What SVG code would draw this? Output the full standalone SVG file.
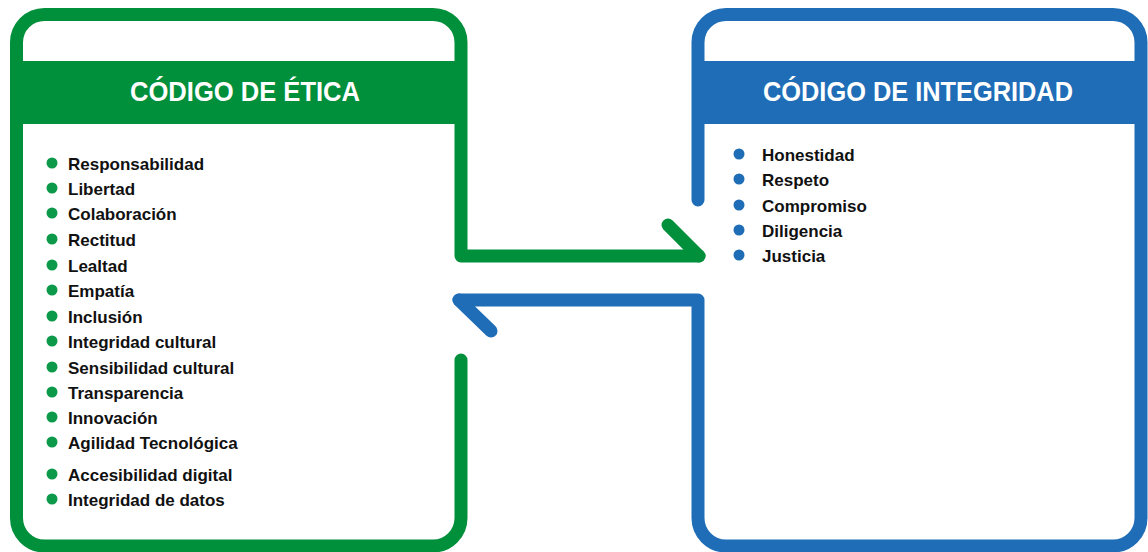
<svg xmlns="http://www.w3.org/2000/svg" width="1148" height="552" viewBox="0 0 1148 552">
<style>
.g{stroke:#008f3b;fill:none;stroke-width:13;stroke-linecap:round;stroke-linejoin:round}
.b{stroke:#1e6db6;fill:none;stroke-width:13;stroke-linecap:round;stroke-linejoin:round}
.hd{font-family:"Liberation Sans",Arial,sans-serif;font-weight:bold;font-size:28px;fill:#fff;text-anchor:middle}
.it{font-family:"Liberation Sans",Arial,sans-serif;font-weight:bold;font-size:17px;fill:#111}
.gd{fill:#0c9a4a}
.bd{fill:#1e6db6}
</style>
<rect width="1148" height="552" fill="#fff"/>
<g id="connectors">
<path class="g" d="M461,360 L461,518 A28,28 0 0 1 433,546 L44.5,546 A28,28 0 0 1 16.5,518 L16.5,42.5 A28,28 0 0 1 44.5,14.5 L433,14.5 A28,28 0 0 1 461,42.5 L461,256 L699,256"/>
<path class="g" d="M668,225 L699,256"/>
<path class="b" d="M698,200 L698,42.5 A28,28 0 0 1 726,14.5 L1113,14.5 A28,28 0 0 1 1141,42.5 L1141,518 A28,28 0 0 1 1113,546 L726,546 A28,28 0 0 1 698,518 L698,300 L459,300"/>
<path class="b" d="M459,300 L491,331"/>
</g>
<g id="codigo-etica">
<rect x="16.5" y="61" width="444.5" height="63" fill="#008f3b"/>
<text class="hd" x="245" y="101" textLength="230" lengthAdjust="spacingAndGlyphs">CÓDIGO DE ÉTICA</text>
<circle class="gd" cx="52" cy="163" r="5.5"/><text class="it" x="68" y="169.5">Responsabilidad</text>
<circle class="gd" cx="52" cy="188" r="5.5"/><text class="it" x="68" y="194.5">Libertad</text>
<circle class="gd" cx="52" cy="213" r="5.5"/><text class="it" x="68" y="219.5">Colaboración</text>
<circle class="gd" cx="52" cy="239" r="5.5"/><text class="it" x="68" y="245.5">Rectitud</text>
<circle class="gd" cx="52" cy="265" r="5.5"/><text class="it" x="68" y="271.5">Lealtad</text>
<circle class="gd" cx="52" cy="290" r="5.5"/><text class="it" x="68" y="296.5">Empatía</text>
<circle class="gd" cx="52" cy="316" r="5.5"/><text class="it" x="68" y="322.5">Inclusión</text>
<circle class="gd" cx="52" cy="341" r="5.5"/><text class="it" x="68" y="347.5">Integridad cultural</text>
<circle class="gd" cx="52" cy="367" r="5.5"/><text class="it" x="68" y="373.5">Sensibilidad cultural</text>
<circle class="gd" cx="52" cy="392" r="5.5"/><text class="it" x="68" y="398.5">Transparencia</text>
<circle class="gd" cx="52" cy="417" r="5.5"/><text class="it" x="68" y="423.5">Innovación</text>
<circle class="gd" cx="52" cy="442" r="5.5"/><text class="it" x="68" y="448.5">Agilidad Tecnológica</text>
<circle class="gd" cx="52" cy="474" r="5.5"/><text class="it" x="68" y="480.5">Accesibilidad digital</text>
<circle class="gd" cx="52" cy="499" r="5.5"/><text class="it" x="68" y="505.5">Integridad de datos</text>
</g>
<g id="codigo-integridad">
<rect x="698" y="61" width="443" height="63" fill="#1e6db6"/>
<text class="hd" x="918" y="101" textLength="310" lengthAdjust="spacingAndGlyphs">CÓDIGO DE INTEGRIDAD</text>
<circle class="bd" cx="739" cy="154" r="5.5"/><text class="it" x="762" y="160.5">Honestidad</text>
<circle class="bd" cx="739" cy="179" r="5.5"/><text class="it" x="762" y="185.5">Respeto</text>
<circle class="bd" cx="739" cy="205" r="5.5"/><text class="it" x="762" y="211.5">Compromiso</text>
<circle class="bd" cx="739" cy="230" r="5.5"/><text class="it" x="762" y="236.5">Diligencia</text>
<circle class="bd" cx="739" cy="255" r="5.5"/><text class="it" x="762" y="261.5">Justicia</text>
</g>
</svg>
